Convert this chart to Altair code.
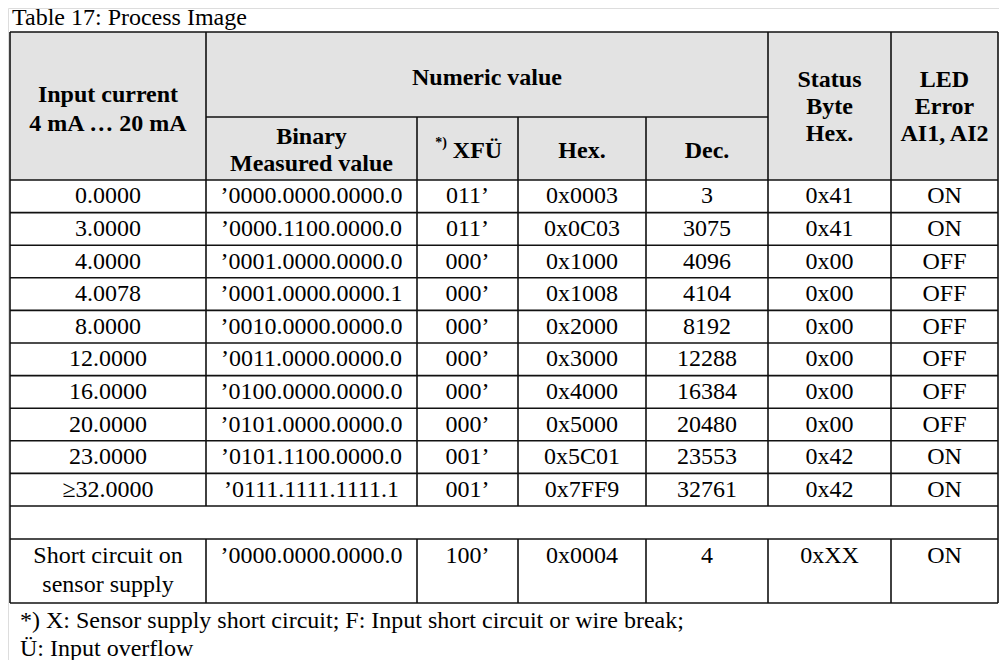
import altair as alt
import pandas as pd

# table content
input_current = ['0.0000', '3.0000', '4.0000', '4.0078', '8.0000', '12.0000',
                 '16.0000', '20.0000', '23.0000', '≥32.0000']
binary = ['’0000.0000.0000.0', '’0000.1100.0000.0', '’0001.0000.0000.0',
          '’0001.0000.0000.1', '’0010.0000.0000.0', '’0011.0000.0000.0',
          '’0100.0000.0000.0', '’0101.0000.0000.0', '’0101.1100.0000.0',
          '’0111.1111.1111.1']
xfu = ['011’', '011’', '000’', '000’', '000’', '000’', '000’', '000’', '001’', '001’']
hexv = ['0x0003', '0x0C03', '0x1000', '0x1008', '0x2000', '0x3000', '0x4000',
        '0x5000', '0x5C01', '0x7FF9']
dec = ['3', '3075', '4096', '4104', '8192', '12288', '16384', '20480', '23553', '32761']
status = ['0x41', '0x41', '0x00', '0x00', '0x00', '0x00', '0x00', '0x00', '0x42', '0x42']
led = ['ON', 'ON', 'OFF', 'OFF', 'OFF', 'OFF', 'OFF', 'OFF', 'ON', 'ON']
short_row = ['’0000.0000.0000.0', '100’', '0x0004', '4', '0xXX', 'ON']

# layout (page pixels)
col_edges = [10, 206, 417, 518, 646, 768, 891, 998]
col_mid = [(a + b) / 2 for a, b in zip(col_edges[:-1], col_edges[1:])]
top, sub_top, head_bot = 32, 117, 180
row_h = 32.6
rows_end = head_bot + row_h * 10
gap_end = rows_end + 33
table_bot = 603
FONT = 'Liberation Serif'
FS = 24
LINE = '#111111'
INK = '#000000'

X = alt.Scale(domain=[8, 999])
Y = alt.Scale(domain=[660, 8])


def xe(f):
    return alt.X(f, type='quantitative', scale=X, axis=None)


def ye(f):
    return alt.Y(f, type='quantitative', scale=Y, axis=None)


# grey header
head = pd.DataFrame([{'x': col_edges[0], 'x2': col_edges[-1], 'y': top, 'y2': head_bot}])
bg = alt.Chart(head).mark_rect(color='#e3e3e3').encode(
    x=xe('x'), x2='x2', y=ye('y'), y2='y2')

# grid lines
lines = []
for y in [top, head_bot, rows_end, gap_end, table_bot]:
    lines.append({'x': col_edges[0], 'x2': col_edges[-1], 'y': y, 'y2': y})
for i in range(1, 10):
    y = head_bot + row_h * i
    lines.append({'x': col_edges[0], 'x2': col_edges[-1], 'y': y, 'y2': y})
lines.append({'x': col_edges[1], 'x2': col_edges[5], 'y': sub_top, 'y2': sub_top})
for i, cx in enumerate(col_edges):
    if i in (0, 7):
        lines.append({'x': cx, 'x2': cx, 'y': top, 'y2': table_bot})
        continue
    y0 = sub_top if i in (2, 3, 4) else top
    lines.append({'x': cx, 'x2': cx, 'y': y0, 'y2': rows_end})
    lines.append({'x': cx, 'x2': cx, 'y': gap_end, 'y2': table_bot})
grid = alt.Chart(pd.DataFrame(lines)).mark_rule(color=LINE, strokeWidth=1.6).encode(
    x=xe('x'), x2='x2', y=ye('y'), y2='y2')

# header texts
htxt = [
    (col_mid[0], 95, 'Input current'), (col_mid[0], 124, '4 mA … 20 mA'),
    ((col_edges[1] + col_edges[5]) / 2, 78, 'Numeric value'),
    (col_mid[1], 137, 'Binary'), (col_mid[1], 164, 'Measured value'),
    (col_mid[2] + 10, 151, 'XFÜ'), (col_mid[3], 151, 'Hex.'), (col_mid[4], 151, 'Dec.'),
    (col_mid[5], 80, 'Status'), (col_mid[5], 107, 'Byte'), (col_mid[5], 134, 'Hex.'),
    (col_mid[6], 80, 'LED'), (col_mid[6], 107, 'Error'), (col_mid[6], 134, 'AI1, AI2'),
]
hdf = pd.DataFrame(htxt, columns=['x', 'y', 't'])
htext = alt.Chart(hdf).mark_text(font=FONT, fontSize=FS, fontWeight='bold', color=INK).encode(
    x=xe('x'), y=ye('y'), text='t:N')
sup = alt.Chart(pd.DataFrame([{'x': 441, 'y': 143, 't': '*)'}])).mark_text(
    font=FONT, fontSize=14, fontWeight='bold', color=INK).encode(x=xe('x'), y=ye('y'), text='t:N')

# body texts
body = []
for r in range(10):
    cy = head_bot + row_h * (r + 0.5)
    vals = [input_current[r], binary[r], xfu[r], hexv[r], dec[r], status[r], led[r]]
    for c, v in enumerate(vals):
        body.append({'x': col_mid[c], 'y': cy, 't': v})
body.append({'x': col_mid[0], 'y': gap_end + 17, 't': 'Short circuit on'})
body.append({'x': col_mid[0], 'y': gap_end + 46, 't': 'sensor supply'})
for c, v in enumerate(short_row):
    body.append({'x': col_mid[c + 1], 'y': gap_end + 17, 't': v})
btext = alt.Chart(pd.DataFrame(body)).mark_text(font=FONT, fontSize=FS, color=INK).encode(
    x=xe('x'), y=ye('y'), text='t:N')

# title and footnotes
notes = pd.DataFrame([
    {'x': 12, 'y': 18, 't': 'Table 17: Process Image'},
    {'x': 20, 'y': 621, 't': '*) X: Sensor supply short circuit; F: Input short circuit or wire break;'},
    {'x': 20, 'y': 649, 't': 'Ü: Input overflow'},
])
ntext = alt.Chart(notes).mark_text(font=FONT, fontSize=FS, align='left', color=INK).encode(
    x=xe('x'), y=ye('y'), text='t:N')

chart = alt.layer(bg, grid, htext, sup, btext, ntext).properties(
    width=991, height=652, autosize=alt.AutoSizeParams(type='none'), padding=0
).configure_view(stroke=None).configure(background='white')

chart.save('out.html', embed_options={'renderer': 'svg', 'actions': False})
